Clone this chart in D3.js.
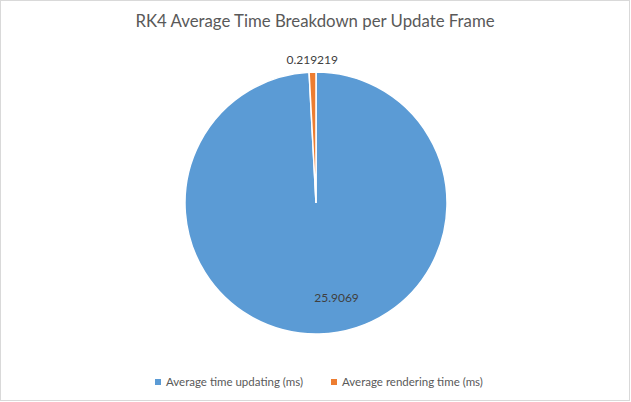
<!DOCTYPE html>
<html>
<head>
<meta charset="utf-8">
<script src="https://cdn.jsdelivr.net/npm/d3@7"></script>
<style>
  body { margin: 0; background: #fff; }
  text { font-family: Lato, "Open Sans", sans-serif; fill: #595959; }
</style>
</head>
<body>
<svg id="chart"></svg>
<script>
// chart data
const categories = ["Average time updating (ms)", "Average rendering time (ms)"];
const values = [25.9069, 0.219219];
const labels = ["25.9069", "0.219219"];
const colors = ["#5B9BD5", "#ED7D31"];

const width = 631, height = 402;
const cx = 316, cy = 203, radius = 131;

const svg = d3.select("#chart")
  .attr("width", width)
  .attr("height", height);

// chart border
svg.append("rect")
  .attr("x", 0.5).attr("y", 0.5)
  .attr("width", width - 2).attr("height", height - 2)
  .attr("fill", "#fff")
  .attr("stroke", "#D9D9D9");

svg.append("text")
  .attr("x", width / 2 - 0.5)
  .attr("y", 27)
  .attr("text-anchor", "middle")
  .style("font-size", "16.8px")
  .text("RK4 Average Time Breakdown per Update Frame");

const pie = d3.pie().sort(null).value(d => d);
const arcs = pie(values);

const arc = d3.arc().innerRadius(0).outerRadius(radius);
const insideArc = d3.arc().innerRadius(95).outerRadius(95);
const outsideArc = d3.arc().innerRadius(143).outerRadius(143);

const g = svg.append("g").attr("transform", `translate(${cx},${cy})`);

g.selectAll("path.slice")
  .data(arcs)
  .enter()
  .append("path")
  .attr("class", "slice")
  .attr("d", arc)
  .attr("fill", (d, i) => colors[i])
  .attr("stroke", "#fff")
  .attr("stroke-width", 1.5);

// data labels: big slice inside, small slice outside
g.selectAll("text.lbl")
  .data(arcs)
  .enter()
  .append("text")
  .attr("class", "lbl")
  .attr("transform", (d, i) => {
    const c = i === 0 ? insideArc.centroid(d) : outsideArc.centroid(d);
    return `translate(${c[0] + (i === 0 ? 18 : 0)},${c[1]})`;
  })
  .attr("text-anchor", "middle")
  .attr("dy", "0.35em")
  .style("font-size", "12px")
  .style("fill", "#404040")
  .text((d, i) => labels[i]);

// legend
const legend = svg.append("g").attr("transform", "translate(0,382)");
const legendX = [155, 331];
const items = legend.selectAll("g.item")
  .data(categories)
  .enter()
  .append("g")
  .attr("class", "item")
  .attr("transform", (d, i) => `translate(${legendX[i]},0)`);

items.append("rect")
  .attr("x", 0).attr("y", -3)
  .attr("width", 6).attr("height", 6)
  .attr("fill", (d, i) => colors[i]);

items.append("text")
  .attr("x", 11)
  .attr("dy", "0.35em")
  .style("font-size", "11.5px")
  .text(d => d);
</script>
</body>
</html>
